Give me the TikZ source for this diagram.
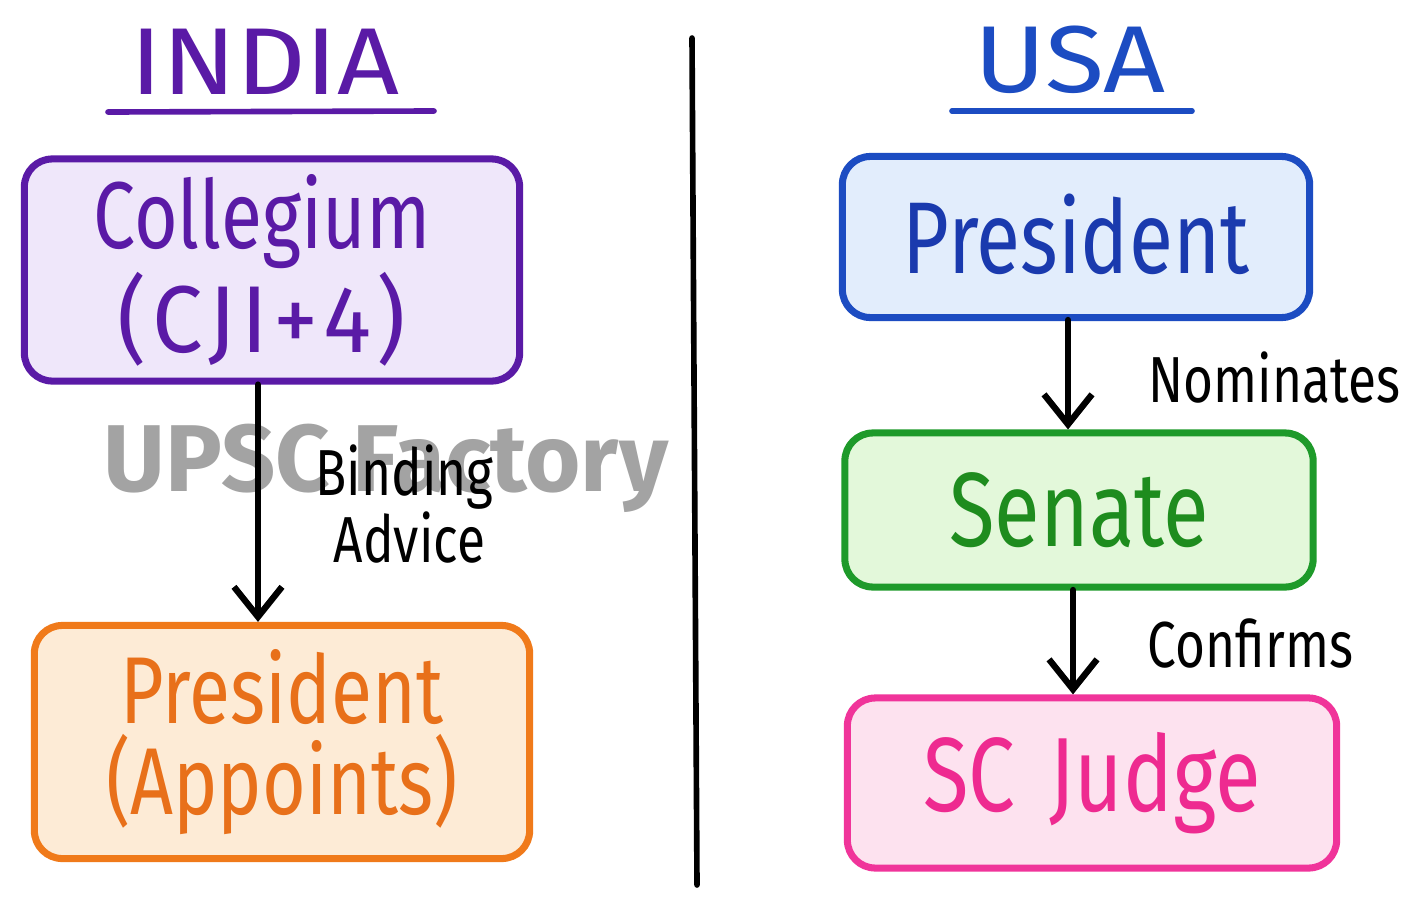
\documentclass[tikz,border=0pt]{standalone}
\usepackage{fontspec}
\setmainfont{Fira Sans}[FakeStretch=0.79]
\newfontfamily\titlefont{Fira Sans}[FakeStretch=1.14]
\newfontfamily\wmfont{Fira Sans}
\newfontfamily\cjifont{Fira Sans}[FakeStretch=0.95,LetterSpace=6]
\usetikzlibrary{arrows.meta}
\definecolor{indiaP}{HTML}{5A1AA6}
\definecolor{indiaFill}{HTML}{EFE7FA}
\definecolor{orgB}{HTML}{F07A1A}
\definecolor{orgFill}{HTML}{FDEBD6}
\definecolor{orgT}{HTML}{E8701A}
\definecolor{usaB}{HTML}{1C4CC2}
\definecolor{usaFill}{HTML}{E2EDFC}
\definecolor{usaT}{HTML}{1A3AAE}
\definecolor{grnB}{HTML}{1E9A2A}
\definecolor{grnFill}{HTML}{E3F8DA}
\definecolor{grnT}{HTML}{1E8C1E}
\definecolor{pnkB}{HTML}{F0349A}
\definecolor{pnkFill}{HTML}{FDE2EF}
\definecolor{pnkT}{HTML}{EE2A90}
\definecolor{wm}{HTML}{A3A3A3}
\tikzset{
  box/.style={draw, line width=2pt, rounded corners=0.28cm, inner sep=0pt, align=center},
  flow/.style={line width=1.8pt, line cap=round, -{Straight Barb[length=0.3cm,width=0.48cm,line width=1.8pt]}},
  lbl/.style={font=\fontsize{18.5}{19}\selectfont, black, align=left, inner sep=0pt},
  title/.style={font=\titlefont\fontsize{27}{30}\selectfont, inner sep=0pt},
  uline/.style={line width=1.6pt, line cap=round}
}
\begin{document}
\begin{tikzpicture}[x=0.01cm,y=-0.01cm]
\useasboundingbox[fill=white] (0,0) rectangle (1403,909);
% watermark
\node[font=\wmfont\fontsize{27}{30}\selectfont\bfseries, text=wm, inner sep=0pt] (wm) at (386,468) {UPSC Factory};
% titles
\node[title, text=indiaP] (india) at (265,62) {INDIA};
\coordinate (iu1) at (108,112);
\coordinate (iu2) at (434,111);
\draw[uline, indiaP] (iu1) -- (iu2);
\node[title, text=usaB] (usa) at (1070,60) {USA};
\coordinate (uu1) at (952,111);
\coordinate (uu2) at (1192,111);
\draw[uline, usaB] (uu1) -- (uu2);
% divider
\coordinate (d1) at (692,38);
\coordinate (d2) at (697,885);
\draw[line width=1.6pt, line cap=round] (d1) -- (d2);
% India boxes
\node[box, draw=indiaP, fill=indiaFill, text=indiaP, text width=4.5cm,
      minimum width=4.95cm, minimum height=2.22cm, font=\fontsize{27}{25.5}\selectfont] (coll) at (272,270) {\hspace*{-0.2cm}Collegium\\\hspace*{-0.2cm}{\cjifont(CJI+4)}};
\node[box, draw=orgB, fill=orgFill, text=orgT, text width=4.5cm,
      minimum width=4.95cm, minimum height=2.33cm, font=\fontsize{27}{26}\selectfont] (pres1) at (282,742) {President\\(Appoints)};
\draw[flow] (coll.south) ++(-14,0) coordinate (a1s) -- (a1s |- pres1.north);
\node[lbl, anchor=north west] (bind) at (315,444) {Binding\\\hspace*{0.18cm}Advice};
% USA boxes
\node[box, draw=usaB, fill=usaFill, text=usaT,
      minimum width=4.67cm, minimum height=1.61cm, font=\fontsize{29}{30}\selectfont] (pres2) at (1076,237) {\raisebox{0.07cm}{President}};
\node[box, draw=grnB, fill=grnFill, text=grnT,
      minimum width=4.68cm, minimum height=1.54cm, font=\fontsize{30}{30}\selectfont] (sen) at (1079,510) {Senate};
\node[box, draw=pnkB, fill=pnkFill, text=pnkT,
      minimum width=4.89cm, minimum height=1.70cm, font=\fontsize{30}{30}\selectfont] (judge) at (1092,783) {SC\hspace{0.12cm} Judge};
\draw[flow] (1068,320) coordinate (b1s) -- (b1s |- sen.north);
\draw[flow] (1073,590) coordinate (b2s) -- (b2s |- judge.north);
\node[lbl, anchor=west] (nom) at (1148,378) {Nominates};
\node[lbl, anchor=west] (conf) at (1147,643) {Confirms};
\end{tikzpicture}
\end{document}
